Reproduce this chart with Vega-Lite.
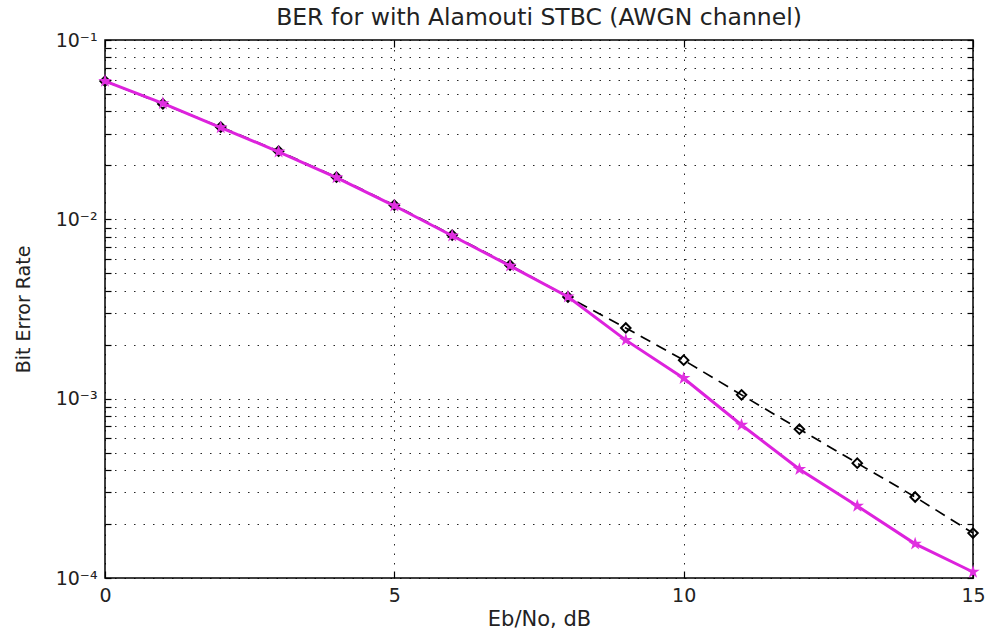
{
  "$schema": "https://vega.github.io/schema/vega-lite/v6.json",
  "width": 868,
  "height": 538,
  "autosize": "none",
  "padding": {"left": 105, "top": 40, "right": 14, "bottom": 59},
  "background": "white",
  "config": {
    "font": "DejaVu Sans",
    "view": {"stroke": "black", "strokeWidth": 1.5},
    "axis": {
      "domain": false,
      "tickColor": "black",
      "tickWidth": 1.2,
      "gridColor": "black",
      "gridDash": [1.5, 8],
      "gridWidth": 1,
      "gridOpacity": 0.85,
      "labelFontSize": 19,
      "labelColor": "#222",
      "titleFontSize": 21,
      "titleFontWeight": "normal",
      "titleColor": "#222",
      "labelOverlap": false,
      "labelFlush": false
    }
  },
  "title": {
    "text": "BER for with Alamouti STBC (AWGN channel)",
    "font": "DejaVu Sans",
    "fontSize": 23.5,
    "fontWeight": "normal",
    "color": "#222",
    "offset": 2
  },
  "data": {
    "values": [
      {"ebno": 0, "ber": 0.059, "series": "theory"},
      {"ebno": 1, "ber": 0.044, "series": "theory"},
      {"ebno": 2, "ber": 0.0327, "series": "theory"},
      {"ebno": 3, "ber": 0.024, "series": "theory"},
      {"ebno": 4, "ber": 0.0172, "series": "theory"},
      {"ebno": 5, "ber": 0.012, "series": "theory"},
      {"ebno": 6, "ber": 0.00817, "series": "theory"},
      {"ebno": 7, "ber": 0.00555, "series": "theory"},
      {"ebno": 8, "ber": 0.00369, "series": "theory"},
      {"ebno": 9, "ber": 0.00248, "series": "theory"},
      {"ebno": 10, "ber": 0.00164, "series": "theory"},
      {"ebno": 11, "ber": 0.00105, "series": "theory"},
      {"ebno": 12, "ber": 0.000676, "series": "theory"},
      {"ebno": 13, "ber": 0.000437, "series": "theory"},
      {"ebno": 14, "ber": 0.000283, "series": "theory"},
      {"ebno": 15, "ber": 0.000178, "series": "theory"},
      {"ebno": 0, "ber": 0.059, "series": "sim"},
      {"ebno": 1, "ber": 0.0443, "series": "sim"},
      {"ebno": 2, "ber": 0.0325, "series": "sim"},
      {"ebno": 3, "ber": 0.0238, "series": "sim"},
      {"ebno": 4, "ber": 0.0171, "series": "sim"},
      {"ebno": 5, "ber": 0.0119, "series": "sim"},
      {"ebno": 6, "ber": 0.0081, "series": "sim"},
      {"ebno": 7, "ber": 0.0055, "series": "sim"},
      {"ebno": 8, "ber": 0.0037, "series": "sim"},
      {"ebno": 9, "ber": 0.00212, "series": "sim"},
      {"ebno": 10, "ber": 0.0013, "series": "sim"},
      {"ebno": 11, "ber": 0.000713, "series": "sim"},
      {"ebno": 12, "ber": 0.000404, "series": "sim"},
      {"ebno": 13, "ber": 0.000252, "series": "sim"},
      {"ebno": 14, "ber": 0.000155, "series": "sim"},
      {"ebno": 15, "ber": 0.000108, "series": "sim"}
    ]
  },
  "encoding": {
    "x": {
      "field": "ebno",
      "type": "quantitative",
      "scale": {"domain": [0, 15], "nice": false, "zero": false},
      "axis": null
    },
    "y": {
      "field": "ber",
      "type": "quantitative",
      "scale": {"type": "log", "domain": [0.0001, 0.1], "nice": false},
      "axis": null
    }
  },
  "resolve": {"axis": {"x": "independent", "y": "independent"}},
  "layer": [
    {
      "transform": [{"filter": "datum.series == 'theory'"}],
      "mark": {"type": "line", "color": "black", "strokeWidth": 1.7, "strokeDash": [11, 7]},
      "encoding": {
        "x": {
          "field": "ebno",
          "type": "quantitative",
          "scale": {"domain": [0, 15], "nice": false, "zero": false},
          "axis": {"orient": "bottom", "values": [0, 5, 10, 15], "grid": true, "tickSize": -7, "title": "Eb/No, dB", "labelPadding": 15, "titlePadding": 3}
        },
        "y": {
          "field": "ber",
          "type": "quantitative",
          "scale": {"type": "log", "domain": [0.0001, 0.1], "nice": false},
          "axis": {
            "orient": "left",
            "grid": true,
            "tickSize": -6,
            "title": "Bit Error Rate",
            "titleFontSize": 19,
            "titlePadding": 22,
            "labelPadding": 14,
            "values": [0.0001, 0.0002, 0.0003, 0.0004, 0.0005, 0.0006, 0.0007, 0.0008, 0.0009,
                       0.001, 0.002, 0.003, 0.004, 0.005, 0.006, 0.007, 0.008, 0.009,
                       0.01, 0.02, 0.03, 0.04, 0.05, 0.06, 0.07, 0.08, 0.09, 0.1],
            "labelExpr": "abs(log(datum.value)/LN10 - round(log(datum.value)/LN10)) < 0.000001 ? (round(log(datum.value)/LN10) == -1 ? '10⁻¹' : round(log(datum.value)/LN10) == -2 ? '10⁻²' : round(log(datum.value)/LN10) == -3 ? '10⁻³' : '10⁻⁴') : ''"
          }
        }
      }
    },
    {
      "transform": [{"filter": "datum.series == 'theory'"}],
      "mark": {"type": "point", "shape": "diamond", "filled": false, "stroke": "black", "strokeWidth": 2, "size": 90, "opacity": 1}
    },
    {
      "transform": [{"filter": "datum.series == 'sim'"}],
      "mark": {"type": "line", "color": "#dd22dd", "strokeWidth": 3}
    },
    {
      "transform": [{"filter": "datum.series == 'sim'"}],
      "mark": {"type": "point", "shape": "M0,-1L0.2245,-0.309L0.951,-0.309L0.363,0.118L0.588,0.809L0,0.382L-0.588,0.809L-0.363,0.118L-0.951,-0.309L-0.2245,-0.309Z", "filled": true, "color": "#e030e0", "size": 200, "opacity": 1},
      "encoding": {
        "x": {
          "field": "ebno",
          "type": "quantitative",
          "scale": {"domain": [0, 15], "nice": false, "zero": false},
          "axis": {"orient": "top", "values": [0, 5, 10, 15], "grid": false, "tickSize": -7, "labels": false, "title": null}
        },
        "y": {
          "field": "ber",
          "type": "quantitative",
          "scale": {"type": "log", "domain": [0.0001, 0.1], "nice": false},
          "axis": {
            "orient": "right",
            "grid": false,
            "tickSize": -6,
            "labels": false,
            "title": null,
            "values": [0.0001, 0.0002, 0.0003, 0.0004, 0.0005, 0.0006, 0.0007, 0.0008, 0.0009,
                       0.001, 0.002, 0.003, 0.004, 0.005, 0.006, 0.007, 0.008, 0.009,
                       0.01, 0.02, 0.03, 0.04, 0.05, 0.06, 0.07, 0.08, 0.09, 0.1]
          }
        }
      }
    }
  ]
}
